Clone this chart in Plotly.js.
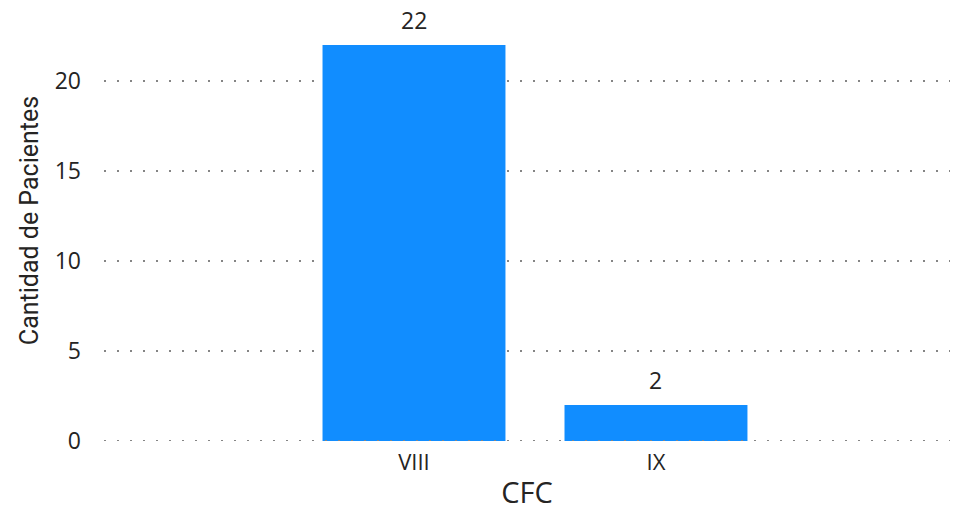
<!DOCTYPE html>
<html><head><meta charset="utf-8">
<script src="https://cdn.plot.ly/plotly-3.0.1.min.js"></script>
<style>html,body{margin:0;padding:0;background:#fff;}#chart{width:958px;height:511px;}</style>
</head><body><div id="chart"></div>
<script>
const categories = ["VIII", "IX"];
const patients = [22, 2];
const yTicks = [0, 5, 10, 15, 20];

const labelFont = {family: "Open Sans, sans-serif", size: 23, color: "#252423"};

const trace = {
  type: "bar",
  x: categories,
  y: patients,
  marker: {color: "#118DFF"},
  hoverinfo: "x+y"
};

const layout = {
  width: 958, height: 511,
  margin: {l: 104, r: 8, t: 0, b: 70},
  paper_bgcolor: "#fff", plot_bgcolor: "#fff",
  bargap: 0.244,
  showlegend: false,
  xaxis: {
    type: "category",
    range: [-1.281, 2.215],
    showgrid: false, zeroline: false, showline: false,
    ticks: "", ticklabelstandoff: 6,
    tickfont: {family: "Open Sans, sans-serif", size: 22, color: "#252423"},
    title: {text: "CFC", font: {family: "Open Sans, sans-serif", size: 29, color: "#252423"}, standoff: 10}
  },
  yaxis: {
    range: [0, 24.5],
    tickvals: yTicks,
    showgrid: true, gridcolor: "#858585", gridwidth: 2, griddash: "2px,11px",
    zeroline: false, showline: false,
    ticks: "", ticklabelstandoff: 22,
    tickfont: {family: "Open Sans, sans-serif", size: 23, color: "#252423"},
    title: {text: "Cantidad de Pacientes", font: {family: "Roboto, sans-serif", size: 25, color: "#252423"}, standoff: 8}
  },
  annotations: categories.map((c, i) => ({
    x: c, y: patients[i], xref: "x", yref: "y",
    text: String(patients[i]), showarrow: false,
    yanchor: "middle", yshift: 25, font: labelFont
  })),
  shapes: [{
    type: "line", xref: "paper", x0: 0, x1: 1, yref: "y", y0: 0, y1: 0,
    layer: "above", line: {color: "#858585", width: 2, dash: "2px,11px"}
  }]
};

Plotly.newPlot("chart", [trace], layout, {displayModeBar: false, staticPlot: true});
</script></body></html>
